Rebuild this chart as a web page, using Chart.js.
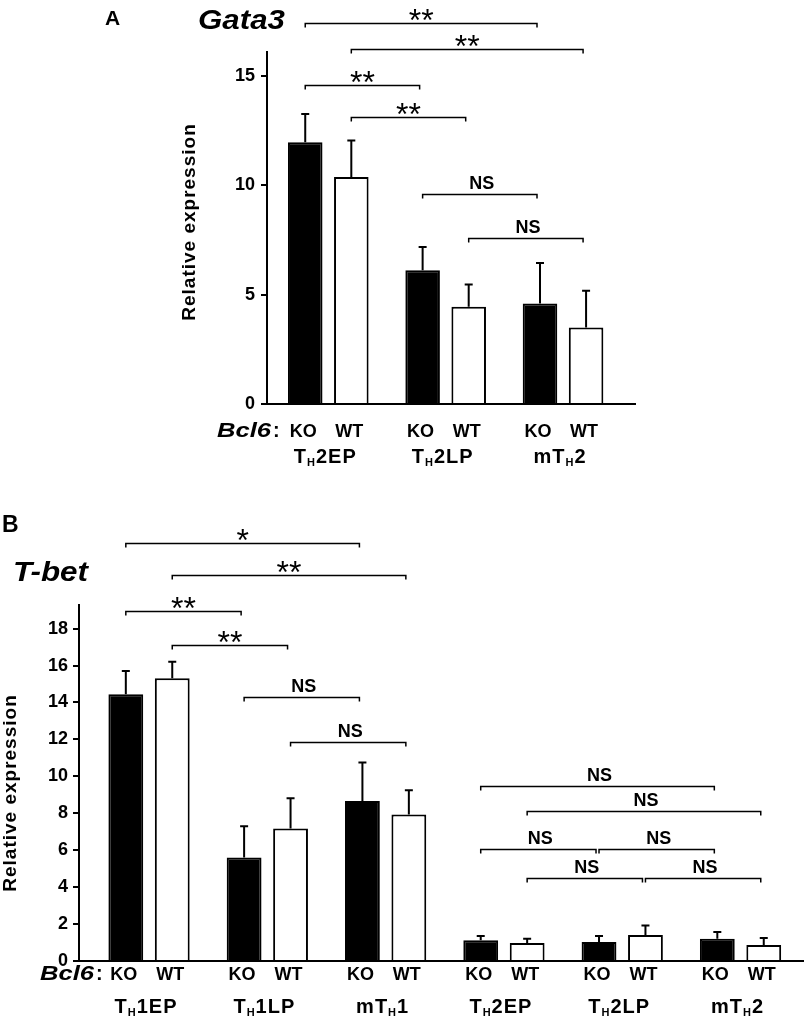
<!DOCTYPE html>
<html>
<head>
<meta charset="utf-8">
<script src="https://cdn.jsdelivr.net/npm/chart.js@4.4.1/dist/chart.umd.min.js"></script>
<style>
  html, body { margin: 0; padding: 0; background: #fff; }
  #wrap { position: relative; width: 805px; height: 1023px; }
  canvas { position: absolute; left: 0; }
  #chartA { top: 0; }
  #chartB { top: 500px; }
</style>
</head>
<body>
<div id="wrap">
  <canvas id="chartA" width="805" height="500"></canvas>
  <canvas id="chartB" width="805" height="523"></canvas>
</div>
<script>
const FONT = "'Liberation Sans', Arial, Helvetica, sans-serif";

// ---- Panel A: Gata3 ----
// '_' marks the subscript letter that follows
const groupsA = ['T_H2EP', 'T_H2LP', 'mT_H2'];
const koA = [11.96, 6.11, 4.59];
const koErrA = [1.29, 1.06, 1.85];
const wtA = [10.37, 4.44, 3.50];
const wtErrA = [1.67, 1.02, 1.67];
const ticksA = [0, 5, 10, 15];
// significance brackets: bars are numbered KO,WT,KO,WT,... ; level in y units
const brFromA = [0, 1, 0, 1, 2, 3];
const brToA = [4, 5, 2, 3, 4, 5];
const brLevelA = [17.39, 16.23, 14.59, 13.09, 9.58, 7.57];
const brTextA = ['**', '**', '**', '**', 'NS', 'NS'];

// ---- Panel B: T-bet ----
const groupsB = ['T_H1EP', 'T_H1LP', 'mT_H1', 'T_H2EP', 'T_H2LP', 'mT_H2'];
const koB = [14.44, 5.60, 8.66, 1.12, 1.03, 1.21];
const koErrB = [1.26, 1.70, 2.09, 0.24, 0.33, 0.36];
const wtB = [15.31, 7.18, 7.93, 0.98, 1.41, 0.87];
const wtErrB = [0.90, 1.64, 1.32, 0.23, 0.51, 0.38];
const ticksB = [0, 2, 4, 6, 8, 10, 12, 14, 16, 18];
const brFromB = [0, 1, 0, 1, 2, 3, 6, 7, 6, 8, 7, 9];
const brToB = [4, 5, 2, 3, 4, 5, 10, 11, 8, 10, 9, 11];
const brLevelB = [22.62, 20.89, 18.97, 17.11, 14.28, 11.85, 9.49, 8.11, 6.05, 6.05, 4.47, 4.47];
const brTextB = ['*', '**', '**', '**', 'NS', 'NS', 'NS', 'NS', 'NS', 'NS', 'NS', 'NS'];

const genotypes = ['KO', 'WT'];

function barX(chart, b) {
  return chart.getDatasetMeta(b % 2).data[Math.floor(b / 2)].x;
}

// text squeezed/stretched to a given width
function fitText(ctx, str, x, y, font, width) {
  ctx.save();
  ctx.font = font;
  const w = ctx.measureText(str).width;
  ctx.translate(x, y);
  ctx.scale(width / w, 1);
  ctx.textAlign = 'left';
  ctx.fillText(str, 0, 0);
  ctx.restore();
}

function groupLabel(ctx, name, cx, y) {
  const parts = name.split('_');
  const pre = parts[0], sub = parts[1][0], post = parts[1].slice(1);
  const big = 'bold 20px ' + FONT, small = 'bold 11px ' + FONT;
  ctx.letterSpacing = '1px';
  ctx.font = big;
  const w1 = ctx.measureText(pre).width, w3 = ctx.measureText(post).width;
  ctx.font = small;
  const w2 = ctx.measureText(sub).width;
  let x = cx - (w1 + w2 + w3) / 2;
  ctx.textAlign = 'left';
  ctx.font = big; ctx.fillText(pre, x, y); x += w1;
  ctx.font = small; ctx.fillText(sub, x, y + 3); x += w2;
  ctx.font = big; ctx.fillText(post, x, y);
  ctx.letterSpacing = '0px';
}

function stars(ctx, str, cx, cy) {
  ctx.font = '32px ' + FONT;
  ctx.textAlign = 'center';
  const m = ctx.measureText('*');
  const base = cy + (m.actualBoundingBoxAscent - m.actualBoundingBoxDescent) / 2;
  const n = str.length;
  for (let i = 0; i < n; i++) {
    ctx.fillText('*', cx + (i - (n - 1) / 2) * 12.5, base);
  }
}

const errorBars = {
  id: 'errorBars',
  afterDatasetsDraw(chart) {
    const ctx = chart.ctx;
    const y = chart.scales.y;
    ctx.save();
    ctx.strokeStyle = '#000';
    ctx.lineWidth = 2;
    chart.data.datasets.forEach((ds, d) => {
      chart.getDatasetMeta(d).data.forEach((bar, i) => {
        const top = y.getPixelForValue(ds.data[i].y + ds.err[i]);
        ctx.beginPath();
        ctx.moveTo(bar.x, bar.y);
        ctx.lineTo(bar.x, top);
        ctx.moveTo(bar.x - 4, top);
        ctx.lineTo(bar.x + 4, top);
        ctx.stroke();
      });
    });
    ctx.restore();
  }
};

function annotations(p) {
  return {
    id: 'annotations',
    afterDraw(chart) {
      const ctx = chart.ctx;
      const area = chart.chartArea;
      const y = chart.scales.y;
      ctx.save();
      ctx.fillStyle = '#000';
      ctx.strokeStyle = '#000';

      // significance brackets
      ctx.lineWidth = 1.5;
      p.brFrom.forEach((f, i) => {
        const x1 = barX(chart, f);
        const x2 = barX(chart, p.brTo[i]) - 3;
        const yy = Math.round(y.getPixelForValue(p.brLevel[i])) + 0.5;
        ctx.beginPath();
        ctx.moveTo(x1, yy + 4);
        ctx.lineTo(x1, yy);
        ctx.lineTo(x2, yy);
        ctx.lineTo(x2, yy + 4);
        ctx.stroke();
        const cx = (x1 + x2) / 2;
        if (p.brText[i] === 'NS') {
          ctx.font = 'bold 18px ' + FONT;
          ctx.textAlign = 'center';
          ctx.fillText('NS', cx + 2, yy - 6);
        } else {
          stars(ctx, p.brText[i], cx, yy - 9);
        }
      });

      // KO / WT under bars, cell type below each pair
      p.groups.forEach((g, i) => {
        genotypes.forEach((gt, d) => {
          const bx = chart.getDatasetMeta(d).data[i].x;
          ctx.font = 'bold 18px ' + FONT;
          ctx.textAlign = 'center';
          ctx.fillText(gt, bx - 2, area.bottom + p.koDy);
        });
        const gx = (chart.getDatasetMeta(0).data[i].x + chart.getDatasetMeta(1).data[i].x) / 2;
        groupLabel(ctx, g, gx - 3, area.bottom + p.grpDy);
      });

      // Bcl6:
      fitText(ctx, 'Bcl6', p.bcl[0], area.bottom + p.koDy, 'italic bold 21px ' + FONT, 54);
      ctx.font = 'bold 20px ' + FONT;
      ctx.textAlign = 'left';
      ctx.fillText(':', p.bcl[0] + 56, area.bottom + p.koDy);

      // panel letter and gene title
      ctx.font = 'bold ' + p.letter[3] + 'px ' + FONT;
      ctx.textAlign = 'left';
      ctx.fillText(p.letter[0], p.letter[1], p.letter[2]);
      fitText(ctx, p.title[0], p.title[1], p.title[2], 'italic bold ' + p.title[4] + 'px ' + FONT, p.title[3]);

      // y-axis title
      ctx.translate(p.yTitle[0], p.yTitle[1]);
      ctx.rotate(-Math.PI / 2);
      ctx.font = 'bold 19px ' + FONT;
      ctx.letterSpacing = '1px';
      ctx.textAlign = 'center';
      ctx.textBaseline = 'middle';
      ctx.fillText('Relative expression', 0, 0);
      ctx.restore();
    }
  };
}

function makePanel(id, p) {
  const ctx = document.getElementById(id).getContext('2d');
  const barStyle = { borderColor: '#000', borderWidth: 2, categoryPercentage: 0.785, barPercentage: 0.75 };
  return new Chart(ctx, {
    type: 'bar',
    data: {
      datasets: [
        Object.assign({ label: 'KO', data: p.ko.map((v, i) => ({ x: i, y: v })), err: p.koErr, backgroundColor: '#000' }, barStyle),
        Object.assign({ label: 'WT', data: p.wt.map((v, i) => ({ x: i, y: v })), err: p.wtErr, backgroundColor: '#fff' }, barStyle)
      ]
    },
    options: {
      responsive: false,
      animation: false,
      layout: { padding: p.pad },
      plugins: { legend: { display: false }, tooltip: { enabled: false } },
      scales: {
        x: {
          type: 'linear',
          offset: false,
          min: p.xMin,
          max: p.xMax,
          ticks: { display: false },
          grid: { display: false },
          border: { color: '#000', width: 2, z: 1 },
          afterBuildTicks: s => { s.ticks = p.groups.map((g, i) => ({ value: i })); },
          afterFit: s => { s.height = 0; }
        },
        y: {
          min: 0,
          max: p.yMax,
          ticks: { color: '#000', padding: p.tickPad, font: { family: FONT, size: 18, weight: 'bold' } },
          grid: { drawOnChartArea: false, color: '#000', lineWidth: 2, tickLength: 6 },
          border: { color: '#000', width: 2 },
          afterBuildTicks: s => { s.ticks = p.ticks.map(v => ({ value: v })); },
          afterFit: s => { s.width = p.yWidth; }
        }
      }
    },
    plugins: [errorBars, annotations(p)]
  });
}

makePanel('chartA', {
  groups: groupsA, ko: koA, koErr: koErrA, wt: wtA, wtErr: wtErrA, ticks: ticksA,
  brFrom: brFromA, brTo: brToA, brLevel: brLevelA, brText: brTextA,
  xMin: -0.522, xMax: 2.613, yMax: 16.08,
  pad: { left: 170, top: 52, right: 170, bottom: 96 }, yWidth: 97, tickPad: 6,
  koDy: 33, grpDy: 59, bcl: [217],
  letter: ['A', 105, 25, 21], title: ['Gata3', 198, 29, 87, 27], yTitle: [190, 222]
});

makePanel('chartB', {
  groups: groupsB, ko: koB, koErr: koErrB, wt: wtB, wtErr: wtErrB, ticks: ticksB,
  brFrom: brFromB, brTo: brToB, brLevel: brLevelB, brText: brTextB,
  xMin: -0.592, xMax: 5.528, yMax: 19.28,
  pad: { left: 0, top: 105, right: 2, bottom: 62 }, yWidth: 79, tickPad: 5,
  koDy: 19, grpDy: 52, bcl: [40],
  letter: ['B', 2, 32, 23], title: ['T-bet', 13, 81, 75, 28], yTitle: [11, 293]
});
</script>
</body>
</html>
